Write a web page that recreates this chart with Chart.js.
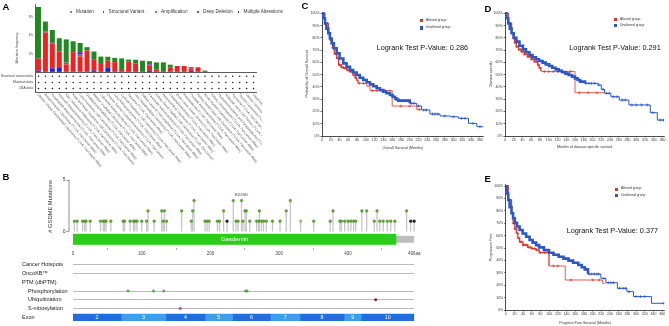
<!DOCTYPE html>
<html>
<head>
<meta charset="utf-8">
<script src="https://cdn.jsdelivr.net/npm/chart.js@4.4.1/dist/chart.umd.min.js"></script>
<style>
html,body{margin:0;padding:0;background:#ffffff;}
body{width:669px;height:326px;position:relative;overflow:hidden;font-family:"Liberation Sans",Arial,Helvetica,sans-serif;}
canvas{position:absolute;}
.tx{position:absolute;white-space:nowrap;line-height:1;}
.pl{font-weight:bold;font-size:9.5px;color:#000;}
.lr{font-size:7.3px;color:#111;}
.kl{font-size:3.4px;color:#333;}
.sq{position:absolute;width:3.4px;height:3.4px;}
.al{font-size:4.7px;color:#333;}
.dot{position:absolute;width:1.8px;height:1.8px;border-radius:50%;}
</style>
</head>
<body>
<script>
// ================= PANEL A : alteration frequency by study =================
const studies = [
 "Uterine Corpus Endometrial Carcinoma (TCGA, PanCancer Atlas)",
 "Breast Invasive Carcinoma (TCGA, PanCancer Atlas)",
 "Esophageal Adenocarcinoma (TCGA, PanCancer Atlas)",
 "Stomach Adenocarcinoma (TCGA, PanCancer Atlas)",
 "Skin Cutaneous Melanoma (TCGA, PanCancer Atlas)",
 "Head and Neck Squamous Cell Carcinoma (TCGA, PanCancer)",
 "Lung Squamous Cell Carcinoma (TCGA, PanCancer Atlas)",
 "Glioblastoma Multiforme (TCGA, PanCancer Atlas)",
 "Bladder Urothelial Carcinoma (TCGA, PanCancer Atlas)",
 "Colorectal Adenocarcinoma (TCGA, PanCancer Atlas)",
 "Ovarian Serous Cystadenocarcinoma (TCGA, PanCancer)",
 "Lung Adenocarcinoma (TCGA, PanCancer Atlas)",
 "Cervical Squamous Cell Carcinoma (TCGA, PanCancer Atlas)",
 "Sarcoma (TCGA, PanCancer Atlas)",
 "Liver Hepatocellular Carcinoma (TCGA, PanCancer Atlas)",
 "Diffuse Large B-Cell Lymphoma (TCGA, PanCancer Atlas)",
 "Pancreatic Adenocarcinoma (TCGA, PanCancer Atlas)",
 "Kidney Renal Papillary Cell Carcinoma (TCGA, PanCancer)",
 "Adrenocortical Carcinoma (TCGA, PanCancer Atlas)",
 "Cholangiocarcinoma (TCGA, PanCancer Atlas)",
 "Brain Lower Grade Glioma (TCGA, PanCancer Atlas)",
 "Mesothelioma (TCGA, PanCancer Atlas)",
 "Prostate Adenocarcinoma (TCGA, PanCancer Atlas)",
 "Kidney Renal Clear Cell Carcinoma (TCGA, PanCancer Atlas)",
 "Acute Myeloid Leukemia (TCGA, PanCancer Atlas)",
 "Kidney Chromophobe (TCGA, PanCancer Atlas)",
 "Pheochromocytoma and Paraganglioma (TCGA, PanCancer)",
 "Testicular Germ Cell Tumors (TCGA, PanCancer Atlas)",
 "Thymoma (TCGA, PanCancer Atlas)",
 "Thyroid Carcinoma (TCGA, PanCancer Atlas)",
 "Uterine Carcinosarcoma (TCGA, PanCancer Atlas)",
 "Uveal Melanoma (TCGA, PanCancer Atlas)"
];
const mutationPct = [5.6,1.1,1.3,1.43,2.5,1.18,1.0,0.36,0.9,0.8,0.43,0.46,1.15,0.2,0.43,1.25,0.35,0.75,1.07,0.32,0,0,0,0,0.18,0,0,0,0,0,0,0];
const svPct       = [0,0,0,0,0,0,0.25,0,0,0,0,0,0,0,0,0,0.1,0,0,0,0,0,0,0,0,0,0,0,0,0,0,0];
const ampPct      = [1.3,4.3,2.7,1.8,0.86,2.18,1.71,2.36,1.15,0.9,0.8,1.1,0.35,1.18,0.93,0,0.6,0.32,0,0.5,0.68,0.68,0.25,0.54,0,0,0,0,0,0,0,0];
const delPct      = [0.18,0,0.43,0.46,0,0,0,0,0.2,0,0.45,0,0,0,0,0,0.15,0,0,0,0,0,0.15,0,0,0,0,0,0,0,0,0];
const multiPct    = [0,0.1,0.15,0,0.2,0,0.21,0,0,0,0,0,0,0,0,0,0,0,0,0,0,0,0.17,0,0,0,0,0,0,0,0,0];
const svProfiled  = [1,1,1,1,1,1,1,1,1,1,1,1,1,1,1,1,1,1,1,1,1,1,1,1,1,1,1,1,1,1,1,1];
const mutProfiled = [1,1,1,1,1,1,1,1,1,1,1,1,1,1,1,1,1,1,1,1,1,1,1,1,1,1,1,1,1,1,1,1];
const cnaProfiled = [1,1,1,1,1,1,1,1,1,1,1,1,1,1,1,1,1,1,1,1,1,1,1,1,1,1,1,1,1,1,1,1];
const profileRows = ["Structural variant data","Mutation data","CNA data"];
const freqTicks = [2,4,6];
const alterationLegend = ["Mutation","Structural Variant","Amplification","Deep Deletion","Multiple Alterations"];

// ================= PANEL B : GSDME lollipop =================
const mutPos   = [2,6,14,17,19,25,40,44,46,48,55,73,75,83,88,90,93,100,107,109,118,129,131,133,136,158,172,174,176,192,195,198,210,213,219,224,233,237,240,245,247,250,252,257,267,270,271,274,277,281,290,301,310,316,331,350,374,378,388,390,395,400,404,408,411,420,427,438,442,446,451,457,462,468,485,491,496];
const mutCount = [1,1,1,1,1,1,1,1,1,1,1,1,1,1,1,1,1,1,1,2,1,2,1,2,1,2,1,2,3,1,1,1,1,1,2,1,3,1,1,3,1,2,2,1,1,1,2,1,1,1,1,1,2,3,1,1,1,2,1,1,1,1,1,1,1,2,2,1,2,1,1,1,1,1,2,1,1];
const mutType  = ["M","M","M","M","M","M","M","M","M","M","M","M","M","M","M","M","M","M","M","M","M","M","M","M","M","M","M","M","M","M","M","M","M","M","M","T","M","M","M","M","M","M","M","M","M","M","M","M","M","M","M","M","M","M","O","M","M","M","M","M","M","M","M","M","M","M","M","M","M","M","M","M","M","M","M","T","T"];
const hotspotLabel = {pos:245, text:"E245K"};
const proteinLength = 496;
const domainName = "Gasdemin";
const domainStart = 0, domainEnd = 470;
const aaTicks = [0,100,200,300,400,496];
const countTicks = [0,5];
const geneYTitle = "# GSDME Mutations";
const trackLabels = ["Cancer Hotspots","OncoKB\u2122","PTM (dbPTM)","Phosphorylation","Ubiquitination","S-nitrosylation","Exon"];
const phosphoSites = [80,117,132,251,253];
const ubiqSites = [440];
const snitroSites = [156];
const exonNames = ["2","3","4","5","6","7","8","9","10"];
const exonStart = [0,70,135,192,232,287,330,394,419];
const exonEnd   = [70,135,192,232,287,330,394,419,496];

// ================= PANELS C, D, E : Kaplan-Meier =================
const monthTicks = [0,20,40,60,80,100,120,140,160,180,200,220,240,260,280,300,320,340,360];
const pctTicks = [0,10,20,30,40,50,60,70,80,90,100];
const kmLegend = ["Altered group","Unaltered group"];
// Overall survival
const osUnT = [0,3,6.8,10,14.4,18,22,27,33.4,40,48.6,56,63.9,71,79,86,94,102,109.5,117,124.7,132,139.9,147,155,161,166.5,170,174,200,216,227,246,269,292,311,334,353,368];
const osUnS = [100,96,91.8,87.5,83.7,79.5,75.5,71.5,67.4,63.2,59.2,56.3,53.8,51.7,49.7,47.5,45.6,43.8,42.1,40.5,38.9,37.5,36.1,34.8,33.4,32,30.7,29.7,28.8,26.6,24.4,21.2,17.9,16.3,15.7,14.4,10.3,7.6,7.6];
const osAlT = [0,6.8,14.4,19,24,28,33.4,38,44,49.3,57,64,71,76,79,82,102,109.5,160,216,226];
const osAlS = [100,91.8,83.7,78,72,67,63.3,57.9,56,55.2,53.5,52.4,49.7,47.5,45.6,42.9,40.5,36.9,24.4,21.5,21.5];
const osUnCens = [178,184,190,196,204,210,220,232,238,252,258,264,280,300,318,326,344,360];
const osAlCens = [21,24,27,30,33,36,39,42,45,48,52,56,60,64,68,72,76,85,95,115,125,135,145,155,180,200,222];
// Disease-specific survival
const dssUnT = [0,3,7.5,11,15,20,26,33,41,48,56,63,71,78,86,93,101,108,115.7,123,130.5,138,145.4,153,160,166,171.6,182.8,212.5,220,227.5,242,261,283,332,348,364];
const dssUnS = [100,96,91.8,87.5,83.7,80,76.9,73.5,70.6,68.2,66,64.2,62.5,61.1,59.8,58.4,57,55.6,54.3,53.1,51.9,50.8,49.7,48.4,47,45.6,44.3,42.9,41.6,38,34.8,32,29.3,25.3,19,13,13];
const dssAlT = [0,7.5,15,18.6,22,26,31,37,44,52,60,67,74.5,78,82,84,160,227.5];
const dssAlS = [100,91.8,83.7,79.6,76,72.8,70.5,68.7,66.5,64.6,62.5,60.6,57.9,55.5,53,52.5,35.3,35.3];
const dssUnCens = [185,192,198,205,214,224,232,238,248,256,268,275,290,300,312,325,338,355,362];
const dssAlCens = [20,23,26,29,32,35,38,41,44,48,52,56,60,64,68,72,76,80,90,100,110,120,130,140,150,170,190,210];
// Progression-free survival
const pfsUnT = [0,2.5,5.9,9,13.4,17,21,26,32,39,47,55,62,70,77,88,99.6,110,122,133,144.5,155,167,175,182,189.4,219,230.6,257,279,294,335.5,365];
const pfsUnS = [100,94,88.7,83,78,74,70.4,67.3,64.5,61.7,59.1,56.5,54.3,52.3,50.5,48.3,46.2,44.6,43,41.4,39.8,38.1,36.3,34.5,32.8,29,25.5,22,17.5,14.8,10.8,5.4,5.4];
const pfsAlT = [0,5.9,13.4,17,21,24.7,28,32,39.6,50.8,60,69.7,77,99.6,137,223,228];
const pfsAlS = [100,88.7,78,69.9,65.5,61.8,58,55,52.4,50.5,49.5,48.4,46.2,35.5,24.2,21.5,21.5];
const pfsUnCens = [186,192,198,204,210,214,226,236,242,248,262,270,276,284,300,310,320,364];
const pfsAlCens = [18,21,24,27,30,33,36,40,44,48,52,56,60,66,72,80,90,110,120,150,200,215];

// ================= helpers =================
const FF = '"Liberation Sans", Arial, Helvetica, sans-serif';
Chart.defaults.font.family = FF;
Chart.defaults.color = '#333';
Chart.defaults.animation = false;

function mk(left, top, w, h, cfg){
  const c = document.createElement('canvas');
  c.width = w; c.height = h;
  c.style.left = left+'px'; c.style.top = top+'px';
  c.style.width = w+'px'; c.style.height = h+'px';
  document.body.appendChild(c);
  cfg.options = Object.assign({responsive:false, maintainAspectRatio:false, animation:false, devicePixelRatio:1}, cfg.options);
  cfg.options.plugins = Object.assign({legend:{display:false}, tooltip:{enabled:false}}, cfg.options.plugins||{});
  return new Chart(c, cfg);
}
function txt(cls, text, left, top, extra){
  const d = document.createElement('div');
  d.className = 'tx ' + cls; d.textContent = text;
  d.style.left = left+'px'; d.style.top = top+'px';
  if (extra) Object.assign(d.style, extra);
  document.body.appendChild(d); return d;
}
function box(cls, left, top, color){
  const d = document.createElement('div');
  d.className = cls; d.style.left = left+'px'; d.style.top = top+'px'; d.style.background = color;
  document.body.appendChild(d);
}
function stepAt(T, S, t){ let s = S[0]; for (let i=0;i<T.length;i++){ if (T[i] <= t) s = S[i]; else break; } return s; }

// ================= PANEL A chart =================
const COL = {mut:'#1f8a1f', sv:'#8b00c9', amp:'#ee2222', del:'#1c1ce6', multi:'#6a6a6a'};
const rowY = [-0.43, -1.1, -1.75];
const yMinA = -2.14, yMaxA = 7.4;
const studyLabelPlugin = {
  id:'studyLabels',
  afterDraw(chart){
    const {ctx, chartArea} = chart; const x = chart.scales.x;
    ctx.save();
    ctx.font = '3.3px ' + FF; ctx.fillStyle = '#555'; ctx.textAlign = 'left'; ctx.textBaseline = 'middle';
    studies.forEach((s,i)=>{
      const px = x.getPixelForValue(i);
      ctx.save(); ctx.translate(px - 0.5, chartArea.bottom + 2); ctx.rotate(49*Math.PI/180); ctx.fillText(s, 0, 0); ctx.restore();
    });
    ctx.restore();
  }
};
function profDots(arr, yv, stackId){
  return {type:'scatter', data: arr.map((v,i)=> v ? {x:studies[i], y:yv} : null).filter(Boolean),
    stack:stackId, pointRadius:0.75, pointBackgroundColor:'#111', pointBorderWidth:0, order:0};
}
mk(0, 0, 262, 175, {
  type:'bar',
  data:{labels:studies, datasets:[
    {label:'Deep Deletion', data:delPct, backgroundColor:COL.del, stack:'alt'},
    {label:'Amplification', data:ampPct, backgroundColor:COL.amp, stack:'alt'},
    {label:'Multiple Alterations', data:multiPct, backgroundColor:COL.multi, stack:'alt'},
    {label:'Structural Variant', data:svPct, backgroundColor:COL.sv, stack:'alt'},
    {label:'Mutation', data:mutationPct, backgroundColor:COL.mut, stack:'alt'},
    profDots(svProfiled, rowY[0], 'r1'),
    profDots(mutProfiled, rowY[1], 'r2'),
    profDots(cnaProfiled, rowY[2], 'r3')
  ]},
  options:{
    layout:{padding:{top:3, right:5, left:0, bottom:0}},
    datasets:{bar:{barPercentage:0.72, categoryPercentage:1}},
    scales:{
      x:{stacked:true, offset:true, grid:{display:false}, border:{display:false}, ticks:{display:false},
         afterFit:s=>{s.height=83; s.paddingLeft=0; s.paddingRight=0;}},
      y:{stacked:true, min:yMinA, max:yMaxA,
         afterBuildTicks:s=>{ s.ticks = [yMinA, rowY[2], rowY[1], rowY[0], 0].concat(freqTicks).map(v=>({value:v})); },
         ticks:{autoSkip:false, padding:2, color:'#444',
           font:c=>({size: (c.tick && c.tick.value < 0) ? 3.3 : 3.0}),
           callback:(v)=>{ const k = rowY.indexOf(v); if (k>=0) return profileRows[k]; return freqTicks.includes(v) ? v+'%' : ''; }},
         grid:{drawTicks:false, lineWidth:0.8, color:c=> (c.tick && (c.tick.value===0 || c.tick.value===yMinA)) ? '#333' : 'rgba(0,0,0,0)'},
         border:{display:true, color:'#333', width:0.8},
         title:{display:true, text:'Alteration frequency', font:{size:3.5}, color:'#444', padding:{top:15, bottom:0}},
         afterFit:s=>{s.width=35; s.paddingTop=0; s.paddingBottom=0;}}
    }
  },
  plugins:[studyLabelPlugin]
});
// legend for A
const legColors = [COL.mut, COL.sv, COL.amp, COL.del, '#222'];
const legX = [71, 103.5, 156, 198, 238.5];
alterationLegend.forEach((name,i)=>{
  box('dot', legX[i]-0.9, 11.1, legColors[i]);
  txt('al', name, legX[i]+5, 9.6);
});

// ================= PANEL B charts =================
const typeColor = {M:'#6aa83e', T:'#2a2a2a', O:'#c9b47a'};
const typeBorder = {M:'#3f7a1f', T:'#000', O:'#a08850'};
const genePlugin = {
  id:'gene',
  beforeDatasetsDraw(chart){
    const {ctx, chartArea} = chart; const x = chart.scales.x, y = chart.scales.y;
    ctx.save();
    const x0 = x.getPixelForValue(0), xL = x.getPixelForValue(proteinLength);
    ctx.fillStyle = '#bdbdbd';
    ctx.fillRect(x0, y.getPixelForValue(-0.42), xL-x0, y.getPixelForValue(-1.09)-y.getPixelForValue(-0.42));
    const d0 = x.getPixelForValue(domainStart), d1 = x.getPixelForValue(domainEnd);
    ctx.fillStyle = '#2ecc1a';
    ctx.fillRect(d0, y.getPixelForValue(-0.22), d1-d0, y.getPixelForValue(-1.29)-y.getPixelForValue(-0.22));
    ctx.fillStyle = '#ffffff'; ctx.font = '6px ' + FF; ctx.textAlign = 'center'; ctx.textBaseline = 'middle';
    ctx.fillText(domainName, (d0+d1)/2, y.getPixelForValue(-0.75));
    ctx.strokeStyle = '#777'; ctx.lineWidth = 0.8; ctx.beginPath();
    ctx.moveTo(chartArea.left, y.getPixelForValue(0)); ctx.lineTo(chartArea.left, y.getPixelForValue(5)); ctx.stroke();
    ctx.restore();
  },
  afterDatasetsDraw(chart){
    const {ctx} = chart; const x = chart.scales.x, y = chart.scales.y;
    const i = mutPos.indexOf(hotspotLabel.pos);
    ctx.save(); ctx.fillStyle = '#444'; ctx.font = '4.4px ' + FF; ctx.textAlign = 'center'; ctx.textBaseline = 'bottom';
    ctx.fillText(hotspotLabel.text, x.getPixelForValue(hotspotLabel.pos), y.getPixelForValue(mutCount[i]) - 3.2);
    ctx.restore();
  }
};
const mutPts = mutPos.map((p,i)=>({x:p, y:mutCount[i]}));
mk(30, 175, 392, 86, {
  type:'scatter',
  data:{datasets:[
    {type:'scatter', data:mutPts, pointRadius:1.35, pointBackgroundColor:mutType.map(t=>typeColor[t]), pointBorderColor:mutType.map(t=>typeBorder[t]), pointBorderWidth:0.4},
    {type:'bar', data:mutPts, backgroundColor:'#c4c4c4', barThickness:0.6}
  ]},
  options:{
    layout:{padding:{top:5, right:5.1, left:0, bottom:0}},
    scales:{
      x:{type:'linear', min:-5.8, max:500, offset:false,
         afterBuildTicks:s=>{ s.ticks = aaTicks.map(v=>({value:v})); },
         ticks:{font:{size:4.5}, color:'#444', padding:1, maxRotation:0, autoSkip:false, callback:v=> v===proteinLength ? v+'aa' : String(v)},
         grid:{drawOnChartArea:false, tickLength:2, color:'#777', lineWidth:0.6}, border:{display:false},
         afterFit:s=>{s.height=13; s.paddingLeft=0; s.paddingRight=0;}},
      y:{type:'linear', min:-1.6, max:5,
         afterBuildTicks:s=>{ s.ticks = countTicks.map(v=>({value:v})); },
         ticks:{font:{size:5}, color:'#333', padding:1},
         grid:{drawOnChartArea:false, tickLength:2.5, color:'#777', lineWidth:0.8}, border:{display:false},
         title:{display:true, text:geneYTitle, font:{size:5.8}, color:'#333', align:'end', padding:{top:17, bottom:0}},
         afterFit:s=>{s.width=39; s.paddingTop=0; s.paddingBottom=0;}}
    }
  },
  plugins:[genePlugin]
});

// tracks
const exonColors = ['#1e6fdc','#3d9fe9','#1e6fdc','#3d9fe9','#1e6fdc','#3d9fe9','#1e6fdc','#3d9fe9','#1e6fdc'];
const exonPlugin = {
  id:'exonLabels',
  afterDatasetsDraw(chart){
    const {ctx} = chart; const x = chart.scales.x, y = chart.scales.y;
    ctx.save(); ctx.fillStyle = '#ffffff'; ctx.font = '5.3px ' + FF; ctx.textAlign = 'center'; ctx.textBaseline = 'middle';
    exonNames.forEach((n,i)=> ctx.fillText(n, x.getPixelForValue((exonStart[i]+exonEnd[i])/2), y.getPixelForValue(6)+0.3));
    ctx.restore();
  }
};
const trackLines = [0,1,3,4,5];
const trackIndent = [0,0,0,1,1,1,0];
const exonDatasets = exonNames.map((n,i)=>({type:'bar', indexAxis:'y', grouped:false, barThickness:6.7,
  data:[{y:trackLabels[6], x:[exonStart[i], exonEnd[i]]}], backgroundColor:exonColors[i], borderWidth:0}));
mk(20, 256, 400, 70, {
  type:'scatter',
  data:{datasets:[
    {type:'scatter', data:phosphoSites.map(p=>({x:p, y:trackLabels[3]})), pointRadius:1.3, pointBackgroundColor:'#55b04a', pointBorderColor:'#3a8a30', pointBorderWidth:0.3},
    {type:'scatter', data:ubiqSites.map(p=>({x:p, y:trackLabels[4]})), pointRadius:1.3, pointBackgroundColor:'#8a1a2a', pointBorderColor:'#6a0a1a', pointBorderWidth:0.3},
    {type:'scatter', data:snitroSites.map(p=>({x:p, y:trackLabels[5]})), pointRadius:1.3, pointBackgroundColor:'#d0408a', pointBorderColor:'#a02060', pointBorderWidth:0.3}
  ].concat(exonDatasets)},
  options:{
    layout:{padding:{top:2.7, right:5.8, left:2, bottom:2.7}},
    scales:{
      x:{type:'linear', min:0, max:proteinLength, display:false, offset:false},
      y:{type:'category', labels:trackLabels, offset:true,
         grid:{offset:false, drawTicks:false, lineWidth:0.6, color:c=> trackLines.includes(c.index) ? '#8d8d8d' : 'rgba(0,0,0,0)'},
         border:{display:false},
         ticks:{crossAlign:'far', font:{size:5.5}, color:'#222', padding:0, autoSkip:false,
                callback:(v,i)=> (trackIndent[i] ? '    ' : '') + trackLabels[i]},
         afterFit:s=>{s.width=51; s.paddingTop=0; s.paddingBottom=0;}}
    }
  },
  plugins:[exonPlugin]
});

// ================= KM charts =================
const RED = '#e0352a', BLUE = '#2b58c8';
function km(o){
  const datasets = [
    {type:'scatter', data:o.unC.map(t=>({x:t, y:stepAt(o.unT,o.unS,t)})), pointStyle:'cross', pointRadius:1.5,
     borderColor:BLUE, pointBorderColor:BLUE, pointBorderWidth:0.7},
    {type:'line', data:o.unT.map((t,i)=>({x:t, y:o.unS[i]})), stepped:true, borderColor:BLUE, pointRadius:0, fill:false, borderWidth:1,
     segment:{borderWidth:c=> c.p0.parsed.x < o.thick ? 2.6 : 1}},
    {type:'scatter', data:o.alC.map(t=>({x:t, y:stepAt(o.alT,o.alS,t)})), pointStyle:'cross', pointRadius:1.4,
     borderColor:RED, pointBorderColor:RED, pointBorderWidth:0.7},
    {type:'line', data:o.alT.map((t,i)=>({x:t, y:o.alS[i]})), stepped:true, borderColor:RED, pointRadius:0, fill:false, borderWidth:0.8,
     segment:{borderWidth:c=> c.p0.parsed.x < 80 ? 1.3 : 0.8}}
  ];
  mk(o.left, o.top, o.w, o.h, {
    type:'line',
    data:{datasets},
    options:{
      layout:{padding:{top:o.padTop, right:o.padRight, left:0, bottom:o.padBottom||0}},
      scales:{
        x:{type:'linear', min:0, max:o.xMax,
           afterBuildTicks:s=>{ s.ticks = monthTicks.map(v=>({value:v})); },
           ticks:{font:{size:3.5}, color:'#333', padding:0.5, maxRotation:0, autoSkip:false},
           grid:{drawOnChartArea:false, tickLength:1.5, color:'#000', lineWidth:0.6},
           border:{color:'#000', width:0.7},
           title:{display:true, text:o.xTitle, font:{size:3.6}, color:'#333', padding:{top:0, bottom:o.xTitlePad}},
           afterFit:s=>{s.height=o.xAxisH; s.paddingLeft=0; s.paddingRight=0;}},
        y:{type:'linear', min:0, max:101,
           afterBuildTicks:s=>{ s.ticks = pctTicks.map(v=>({value:v})); },
           ticks:{font:{size:3.5}, color:'#333', padding:1, autoSkip:false, callback:v=> v+'%'},
           grid:{drawOnChartArea:false, tickLength:1.5, color:'#000', lineWidth:0.6},
           border:{color:'#000', width:0.7},
           title:{display:true, text:o.yTitle, font:{size:3.6}, color:'#333', padding:{top:o.yTitlePad, bottom:0}},
           afterFit:s=>{s.width=o.yAxisW; s.paddingTop=0; s.paddingBottom=0;}}
      }
    }
  });
  box('sq', o.legX, o.legY, RED); txt('kl', kmLegend[0], o.legX+6, o.legY-0.1);
  box('sq', o.legX, o.legY+o.legDy, BLUE); txt('kl', kmLegend[1], o.legX+6, o.legY+o.legDy-0.1);
  txt('lr', o.logrank, o.lrX, o.lrY);
}
km({left:298, top:5, w:192, h:147, padTop:7.07, padRight:6.6, yAxisW:24, xAxisH:16, xMax:368,
    xTitle:'Overall Survival (Months)', xTitlePad:1.84, yTitle:'Probability of Overall Survival', yTitlePad:6.5,
    unT:osUnT, unS:osUnS, alT:osAlT, alS:osAlS, unC:osUnCens, alC:osAlCens, thick:180,
    legX:420, legY:19, legDy:7.3, logrank:'Logrank Test P-Value: 0.286', lrX:376.7, lrY:44.3});
km({left:481, top:5, w:188, h:147, padTop:7.07, padRight:1.3, yAxisW:24, xAxisH:16, xMax:364,
    xTitle:'Months of disease-specific survival', xTitlePad:2.5, yTitle:'Disease-specific', yTitlePad:7.8,
    unT:dssUnT, unS:dssUnS, alT:dssAlT, alS:dssAlS, unC:dssUnCens, alC:dssAlCens, thick:182,
    legX:614, legY:17.6, legDy:6.4, logrank:'Logrank Test P-Value: 0.291', lrX:569.3, lrY:43.7});
km({left:481, top:178, w:188, h:148, padTop:6.76, padRight:0.3, padBottom:1, yAxisW:24.7, xAxisH:15, xMax:365,
    xTitle:'Progress Free Survival (Months)', xTitlePad:0.14, yTitle:'Progression Free', yTitlePad:7.8,
    unT:pfsUnT, unS:pfsUnS, alT:pfsAlT, alS:pfsAlS, unC:pfsUnCens, alC:pfsAlCens, thick:185,
    legX:615, legY:187.5, legDy:6.6, logrank:'Logrank Test P-Value: 0.377', lrX:566.7, lrY:227});

// panel letters
txt('pl','A',2.5,1.5); txt('pl','B',2.5,171.5); txt('pl','C',301.5,1); txt('pl','D',484.5,3.5); txt('pl','E',484.5,174);
</script>
</body>
</html>
